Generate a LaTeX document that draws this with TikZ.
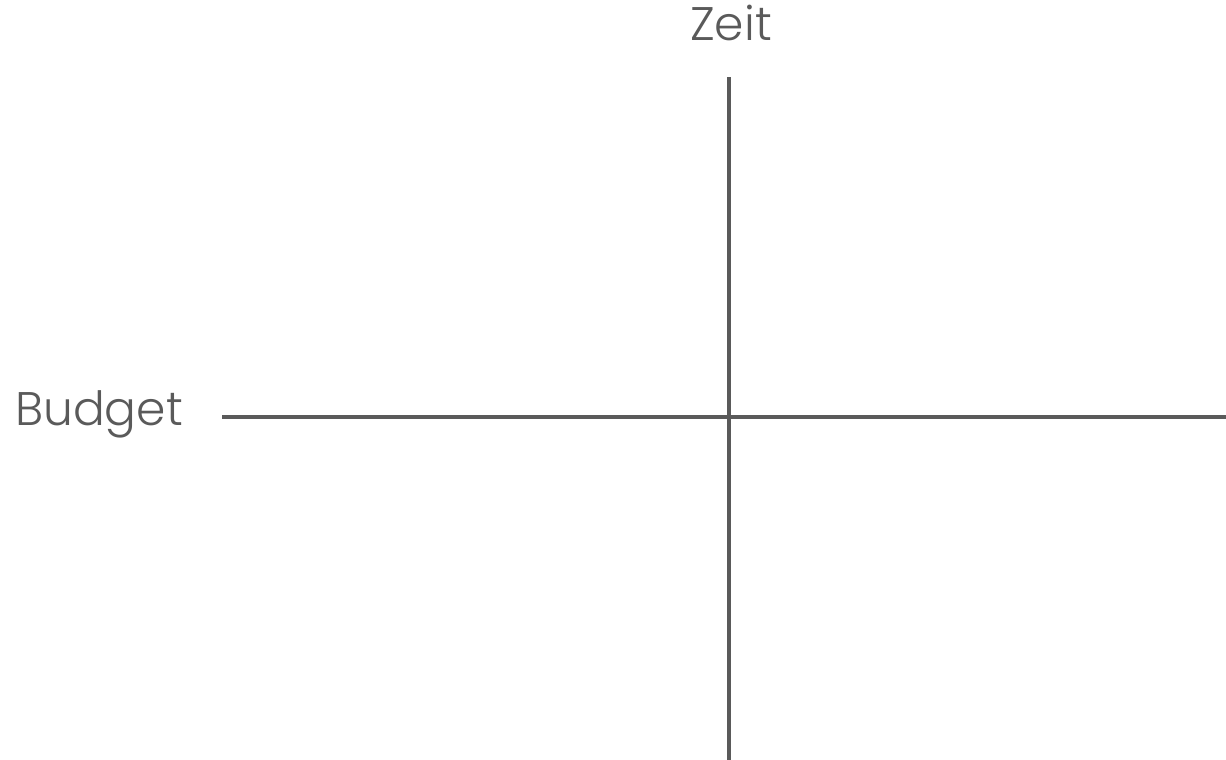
\documentclass[tikz,border=0pt]{standalone}
\usepackage{fontspec}
\setmainfont{Poppins}[UprightFont=* Light]
\usetikzlibrary{positioning}
\definecolor{axisgray}{HTML}{5A5A5A}
\begin{document}
\begin{tikzpicture}[x=0.01cm,y=-0.01cm, every node/.style={font=\fontsize{13.4}{15}\selectfont, text=axisgray}]
    \useasboundingbox (0,0) rectangle (1226,760);
    \tikzset{axisline/.style={draw=axisgray, line width=1.15pt}}
    % axis ends
    \coordinate (top) at (729,77);
    \coordinate (bottom) at (729,760);
    \coordinate (left) at (222,417);
    \coordinate (right) at (1226,417);
    \node[anchor=base] (zeit) at (731,40) {Zeit};
    \node[anchor=base] (budget) at (99,425) {Budget};
    \draw[axisline] (top) -- (bottom);
    \draw[axisline] (left) -- (right);
\end{tikzpicture}
\end{document}
